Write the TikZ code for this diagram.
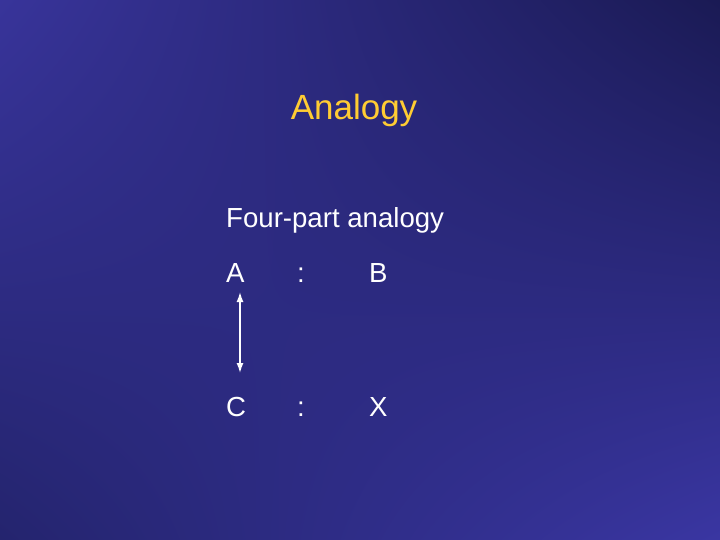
\documentclass[tikz,border=0pt]{standalone}
\usepackage{fontspec}
\setmainfont{Liberation Sans}
\usepackage{tikz}
\usetikzlibrary{shadings,arrows.meta}
\definecolor{slidetop}{RGB}{56,52,154}
\definecolor{slidedark}{RGB}{26,26,84}
\definecolor{slidelow}{RGB}{36,36,110}
\definecolor{slidebright}{RGB}{58,54,162}
\definecolor{titlegold}{RGB}{255,204,51}

\begin{document}
\begin{tikzpicture}[x=1pt, y=-1pt,
  Title/.style={text=titlegold, font=\fontsize{35}{42}\selectfont, inner sep=0pt},
  Term/.style={text=white, font=\fontsize{27.6}{34}\selectfont, anchor=base west, inner sep=0pt},
  Link/.style={{Latex[length=10pt,width=7pt]}-{Latex[length=10pt,width=7pt]}, white, line width=1.4pt}]

\shade [upper left=slidetop, upper right=slidedark, lower left=slidelow, lower right=slidebright] (0,0) rectangle (720,540);
\useasboundingbox (0,0) rectangle (720,540);

\node [Title, anchor=base] (title) at (354, 120) {Analogy};

\node [Term] (head) at (226, 228) {Four-part analogy};

\foreach \y/\lft/\rgt in {282/A/B, 416/C/X} {
  \node [Term] (\lft) at (226, \y) {\lft};
  \node [Term] (sep\lft) at (297, \y) {:};
  \node [Term] (\rgt) at (369, \y) {\rgt};
}

\coordinate (top) at (240, 292);
\coordinate (bot) at (240, 373);
\draw [Link] (top) -- (bot);
\end{tikzpicture}
\end{document}
